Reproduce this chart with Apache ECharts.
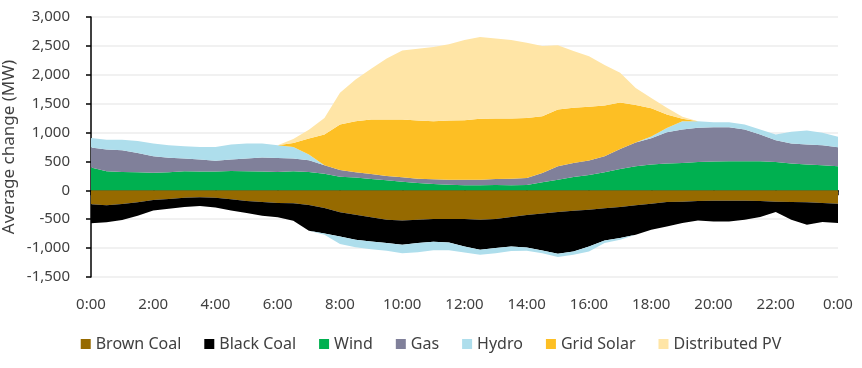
<!DOCTYPE html>
<html>
<head>
<meta charset="utf-8">
<script src="https://cdn.jsdelivr.net/npm/echarts@6/dist/echarts.min.js"></script>
<style>
html,body{margin:0;padding:0;background:#fff;}
#chart{width:862px;height:368px;}
</style>
</head>
<body>
<div id="chart"></div>
<script>
// Half-hourly time categories 0:00 .. 24:00 (shown as 0:00)
const times = [];
for (let i = 0; i <= 48; i++) {
  const h = Math.floor(i / 2) % 24;
  times.push(h + ':' + (i % 2 ? '30' : '00'));
}

// Average change (MW)
const brownCoal = [-240,-258,-237,-205,-168,-150,-130,-118,-127,-156,-185,-202,-220,-225,-254,-306,-381,-422,-468,-508,-522,-509,-497,-497,-497,-509,-497,-462,-428,-400,-376,-355,-335,-312,-289,-260,-231,-200,-196,-185,-179,-179,-179,-185,-196,-200,-208,-220,-231];
const blackCoal = [-330,-294,-278,-235,-179,-168,-160,-154,-171,-191,-208,-238,-246,-300,-446,-439,-419,-433,-416,-405,-420,-404,-393,-405,-474,-520,-503,-509,-560,-640,-722,-703,-636,-555,-538,-509,-451,-424,-370,-335,-359,-359,-329,-277,-179,-308,-387,-329,-335];
const wind = [395,332,318,312,306,312,330,325,324,335,330,325,318,330,318,285,234,220,197,173,148,127,110,98,87,87,92,87,92,139,185,231,265,315,368,416,445,463,475,492,498,503,503,503,492,463,446,434,417];
const gas = [345,376,376,336,284,254,222,207,190,197,222,243,242,219,202,148,116,92,86,76,77,75,81,87,98,98,105,115,122,162,231,243,250,275,346,412,455,543,578,591,595,590,550,463,376,347,347,347,329];
const hydro = [165,168,180,207,220,216,211,216,237,263,257,241,221,203,100,-25,-130,-130,-136,-132,-148,-157,-145,-133,-104,-87,-90,-79,-57,-47,-58,-58,-87,-46,-28,0,30,74,142,114,87,87,87,87,98,203,243,215,180];
const gridSolar = [0,0,0,0,0,0,0,0,0,0,0,0,0,68,275,532,790,884,942,976,1000,1006,1005,1023,1029,1052,1046,1041,1040,982,983,954,930,878,806,650,490,233,44,0,0,0,0,0,0,0,0,0,0];
const distributedPV = [0,0,0,0,0,0,0,0,0,0,0,0,0,70,155,285,550,724,881,1055,1195,1242,1284,1322,1386,1418,1387,1357,1301,1214,1110,982,875,702,515,292,180,117,34,0,0,0,0,0,0,0,0,0,0];

const yTicks = { min: -1500, max: 3000, interval: 500 };
const legendNames = ['Brown Coal','Black Coal','Wind','Gas','Hydro','Grid Solar','Distributed PV'];

const colors = {
  'Brown Coal': '#966A00',
  'Black Coal': '#000000',
  'Wind': '#00B050',
  'Gas': '#80809A',
  'Hydro': '#AEDEEC',
  'Grid Solar': '#FDBF24',
  'Distributed PV': '#FFE5A6'
};

const hydroPos = hydro.map(v => Math.max(v, 0));
const hydroNeg = hydro.map(v => Math.min(v, 0));

function area(name, data) {
  return {
    name: name,
    type: 'line',
    stack: 'total',
    data: data,
    xAxisIndex: 0,
    symbol: 'none',
    smooth: false,
    lineStyle: { width: 0 },
    areaStyle: { color: colors[name], opacity: 1 },
    itemStyle: { color: colors[name] },
    emphasis: { disabled: true },
    animation: false
  };
}

const FONT = 'Noto Sans';
const TXT = '#404040';

const chart = echarts.init(document.getElementById('chart'), null, { renderer: 'canvas' });
chart.setOption({
  animation: false,
  textStyle: { fontFamily: FONT },
  grid: { left: 91, right: 24, top: 17, bottom: 91, containLabel: false, outerBoundsMode: 'none' },
  legend: {
    data: legendNames,
    left: 'center',
    top: 331,
    icon: 'rect',
    itemWidth: 10,
    itemHeight: 10,
    itemGap: 23,
    textStyle: { fontFamily: FONT, fontSize: 16, color: TXT }
  },
  xAxis: [
    {
      type: 'category',
      data: times,
      boundaryGap: false,
      axisLine: { onZero: true, lineStyle: { color: '#000', width: 1.5 } },
      axisTick: { show: true, interval: 3, length: 5, lineStyle: { color: '#000', width: 1.5 } },
      axisLabel: { show: false },
      splitLine: { show: false }
    },
    {
      type: 'category',
      data: times,
      boundaryGap: false,
      position: 'bottom',
      axisLine: { show: false, onZero: false },
      axisTick: { show: false },
      axisLabel: {
        interval: 3,
        margin: 20,
        fontSize: 15,
        color: TXT,
        fontFamily: FONT,
        formatter: v => v
      },
      splitLine: { show: false }
    }
  ],
  yAxis: {
    type: 'value',
    min: yTicks.min,
    max: yTicks.max,
    interval: yTicks.interval,
    name: 'Average change (MW)',
    nameLocation: 'middle',
    nameGap: 73,
    nameMoveOverlap: false,
    nameTextStyle: { fontFamily: FONT, fontSize: 17, color: TXT },
    axisLine: { show: true, lineStyle: { color: '#000', width: 1.5 } },
    axisTick: { show: true, length: 5, lineStyle: { color: '#000', width: 1.5 } },
    axisLabel: {
      margin: 21,
      fontSize: 15,
      color: TXT,
      fontFamily: FONT,
      formatter: v => v.toLocaleString('en-US')
    },
    splitLine: { show: true, lineStyle: { color: '#EDEDED', width: 1.5 } }
  },
  series: [
    area('Brown Coal', brownCoal),
    area('Black Coal', blackCoal),
    area('Hydro', hydroNeg),
    area('Wind', wind),
    area('Gas', gas),
    area('Hydro', hydroPos),
    area('Grid Solar', gridSolar),
    area('Distributed PV', distributedPV)
  ]
});
</script>
</body>
</html>
